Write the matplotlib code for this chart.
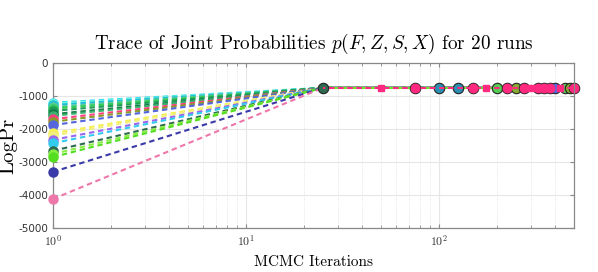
import matplotlib.pyplot as plt
from matplotlib.ticker import LogLocator, NullFormatter, FuncFormatter
import numpy as np

plt.rcParams['mathtext.fontset'] = 'cm'
plt.rcParams['axes.unicode_minus'] = False

# MCMC iterations where the joint probability was recorded
iters = [1, 25, 50, 75, 100, 125, 150, 175, 200, 225, 250,
         275, 300, 325, 350, 375, 400, 425, 450, 475, 500]
plateau = -750  # all runs converge to this LogPr

# starting LogPr of each run and its colour
start_vals = [-1200, -1240, -1270, -1330, -1380, -1450, -1550, -1600, -1700, -1780,
              -1880, -2130, -2200, -2330, -2430, -2660, -2760, -2850, -3300, -4120]
run_colors = ['#33ddee', '#7fffd4', '#22bbdd', '#55cc99', '#33cc55', '#1f9e5a',
              '#147a45', '#3cb371', '#ff3d7f', '#8a9a2a', '#5566dd', '#f5f050',
              '#f0f080', '#9966ee', '#33ccee', '#2d6a4f', '#88ee44', '#55dd22',
              '#3a3aa8', '#ee77aa']

# iterations with a black-ringed marker and the fill shown inside it
ring_iters = [25, 75, 100, 125, 150, 200, 225, 250, 275, 325, 350, 375, 400, 450, 475, 500]
ring_fill = ['#2d6a4f', '#ff3d7f', '#2a8fb0', '#2a8fb0', '#ff3d7f', '#55cc55', '#ff3d7f',
             '#88aa33', '#ff3d7f', '#ff3d7f', '#ff3d7f', '#ff3d7f', '#5566dd', '#55cc55',
             '#88aa33', '#ff3d7f']
# pink top run: square markers at these iterations
square_iters = [50, 175, 300, 425]
top_color = '#ff2a7f'

fig = plt.figure(figsize=(5.98, 2.72), dpi=100)
ax = fig.add_axes([0.0886, 0.162, 0.8714, 0.606])

for v, c in zip(start_vals, run_colors):
    ys = [v] + [plateau] * (len(iters) - 1)
    ax.plot(iters, ys, linestyle=(0, (2.6, 1.8)), lw=1.5, color=c)
    ax.plot([iters[0]], [v], 'o', ms=6.5, color=c, clip_on=False, zorder=3)

# green dashes visible under the pink
ax.plot(iters[1:], [plateau] * (len(iters) - 1), linestyle=(0, (2.6, 1.8)),
        lw=1.5, color='#66ee22')
for x, fc in zip(ring_iters, ring_fill):
    ax.plot([x], [plateau], 'o', ms=7.5, mfc=fc, mec='#222222', mew=0.8, clip_on=False)
ax.plot(iters[1:], [plateau] * (len(iters) - 1), linestyle=(1.5, (2.6, 1.8)),
        lw=1.5, color=top_color)
for x in iters[1:]:
    if x in square_iters:
        ax.plot([x], [plateau], 's', ms=4.5, color=top_color)
    elif ring_fill[ring_iters.index(x)] == '#ff3d7f':
        ax.plot([x], [plateau], 'o', ms=6, color=top_color, clip_on=False)

ax.set_xscale('log')
ax.set_xlim(1, 500)
ax.set_ylim(-5000, 0)
ax.set_yticks(range(-5000, 1, 1000))
ax.xaxis.set_major_formatter(FuncFormatter(
    lambda v, p: r'$\mathsf{10^{%d}}$' % int(round(np.log10(v)))))
ax.xaxis.set_minor_locator(LogLocator(base=10, subs=range(2, 10), numticks=20))
ax.xaxis.set_minor_formatter(NullFormatter())

ax.grid(True, which='major', color='#e6e6e6', lw=0.8)
ax.grid(True, which='minor', axis='x', color='#dddddd', lw=0.6, linestyle=':')
ax.set_axisbelow(True)
for s in ax.spines.values():
    s.set_color('#888888')
    s.set_linewidth(0.9)
ax.tick_params(which='both', direction='in', top=True, right=True,
               colors='#888888', labelcolor='#333333', labelsize=7.5)
ax.tick_params(axis='x', labelsize=8.5, pad=5)
ax.tick_params(which='major', length=3)
ax.tick_params(which='minor', length=2)

ax.set_title(r'Trace of Joint Probabilities $p(F,Z,S,X)$ for 20 runs',
             fontfamily='cmr10', fontsize=13.8, pad=10)
ax.set_ylabel('LogPr', fontfamily='cmr10', fontsize=15)
ax.yaxis.set_label_coords(-0.068, 0.5)
ax.set_xlabel('MCMC Iterations', fontfamily='cmr10', fontsize=11, labelpad=4)

fig.savefig('out.png', dpi=100)
